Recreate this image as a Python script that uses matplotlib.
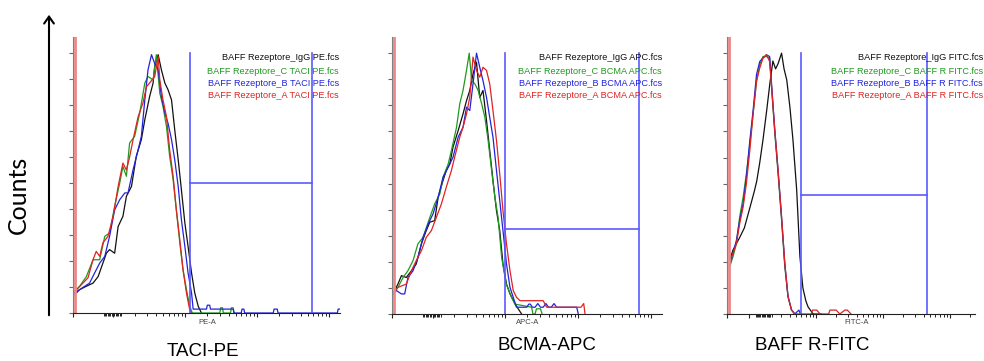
import numpy as np
import matplotlib
matplotlib.use("Agg")
import matplotlib.pyplot as plt
from matplotlib.patches import FancyArrowPatch

# x: display channel 0-1000 across the axis, y: % of max counts
# ---------------- TACI-PE ----------------
taci_igg_x = [6, 25, 50, 75, 94, 112, 125, 137, 156, 169, 187, 200, 219, 237, 256, 269, 287, 300, 306, 319,
              331, 344, 356, 369, 381, 394, 406, 419, 431, 444, 456, 469, 481]
taci_igg_y = [7.7, 9.0, 10.3, 11.5, 14.0, 19.2, 23.0, 24.4, 23.0, 33.3, 37.2, 44.9, 48.7, 60.3, 66.7, 74.4, 83.3,
              88.5, 94.9, 99.4, 93.6, 88.5, 85.9, 82.0, 70.5, 59.0, 47.4, 34.6, 25.6, 15.4, 7.7, 2.6, 0.0]
taci_c_x = [6, 25, 50, 75, 100, 119, 137, 156, 175, 187, 200, 212, 231, 250, 269, 281, 300, 312, 325, 337,
            350, 362, 375, 387, 400, 412, 425, 437, 447, 550, 553, 560, 563, 590, 593, 600, 603]
taci_c_y = [8.3, 10.3, 14.0, 20.5, 20.5, 29.5, 30.8, 41.0, 50.0, 56.4, 52.6, 65.4, 68.0, 77.0, 88.5, 91.0, 89.7,
            99.4, 84.6, 79.5, 71.8, 60.3, 51.3, 39.7, 27.0, 16.7, 9.0, 2.6, 0.0, 0.0, 2.0, 2.0, 0.0, 0.0, 2.0, 2.0, 0.0]
taci_b_x = [6, 25, 44, 62, 81, 100, 119, 137, 156, 175, 194, 206, 225, 244, 256, 269, 281, 294, 306, 319, 331,
            344, 356, 369, 381, 394, 406, 419, 431, 444, 450, 500, 503, 512, 515, 600, 603, 606, 609, 612,
            630, 633, 640, 643, 750, 753, 765, 768, 990, 993, 1000]
taci_b_y = [7.0, 9.0, 10.3, 11.5, 15.4, 19.2, 21.8, 29.5, 39.7, 43.6, 46.2, 46.2, 55.1, 62.8, 68.0, 82.0, 93.6,
            99.4, 96.0, 93.6, 83.3, 77.0, 73.0, 66.7, 59.0, 48.7, 35.9, 25.6, 15.4, 7.7, 1.5, 1.5, 3.0, 3.0, 1.5,
            1.5, 0.0, 0.0, 0.0, 0.0, 0.0, 1.5, 1.5, 0.0, 0.0, 1.5, 1.5, 0.0, 0.0, 1.5, 1.5]
taci_a_x = [6, 19, 37, 56, 75, 87, 100, 112, 131, 150, 169, 187, 200, 212, 225, 244, 262, 275, 287, 306, 319,
            325, 337, 350, 362, 375, 387, 400, 412, 425, 437, 444]
taci_a_y = [8.3, 9.6, 11.5, 13.5, 20.5, 23.7, 21.8, 27.0, 29.5, 37.0, 48.7, 57.7, 55.0, 60.0, 66.7, 75.6, 80.8,
            87.0, 88.5, 91.0, 98.7, 89.7, 82.0, 75.6, 62.8, 52.6, 39.7, 28.2, 16.7, 7.7, 1.3, 0.0]

# ---------------- BCMA-APC ----------------
bcma_igg_x = [4, 22, 35, 53, 72, 90, 109, 127, 140, 158, 171, 189, 201, 214, 226, 245, 263, 276, 288, 300, 313,
              325, 337, 350, 362, 374, 387, 399, 411, 424, 437, 456, 480]
bcma_igg_y = [7.7, 11.5, 14.7, 14.0, 16.6, 19.2, 26.9, 32.0, 35.2, 35.8, 44.8, 51.2, 55.0, 57.5, 64.0, 70.3, 76.7,
              81.8, 85.7, 92.0, 96.5, 83.0, 85.7, 74.2, 62.7, 51.2, 39.6, 32.0, 19.2, 11.5, 7.7, 3.8, 0.0]
bcma_c_x = [4, 22, 41, 59, 78, 96, 115, 140, 158, 177, 189, 208, 220, 239, 251, 263, 276, 286, 295, 307, 319,
            332, 344, 356, 369, 381, 393, 406, 423, 443, 455, 517, 522, 530, 535, 550, 556]
bcma_c_y = [7.7, 10.2, 14.0, 16.6, 20.5, 26.9, 29.4, 37.0, 42.2, 46.0, 52.4, 57.5, 62.7, 71.6, 80.6, 85.7, 93.4,
            100.0, 89.5, 88.2, 85.7, 80.6, 75.4, 66.5, 55.0, 44.8, 37.0, 21.7, 11.5, 6.4, 3.8, 2.6, 0.0, 0.0, 2.0,
            2.0, 0.0]
bcma_b_x = [4, 16, 35, 47, 59, 78, 96, 115, 134, 152, 171, 189, 208, 226, 245, 263, 276, 288, 300, 313, 325,
            337, 350, 362, 374, 387, 399, 411, 424, 437, 449, 461, 499, 507, 512, 520, 530, 540, 550, 560, 570,
            580, 590, 600, 610, 620, 684, 690]
bcma_b_y = [7.7, 9.0, 7.7, 7.7, 14.0, 16.6, 21.7, 29.4, 34.5, 38.4, 44.8, 52.4, 56.3, 60.1, 67.8, 71.6, 79.3,
            78.0, 88.2, 100.0, 94.6, 89.5, 83.1, 75.4, 67.8, 55.0, 43.5, 32.0, 19.2, 10.2, 6.4, 2.6, 2.6, 3.8, 3.8,
            2.6, 2.6, 4.0, 2.6, 2.6, 4.0, 2.6, 2.6, 4.0, 2.6, 2.6, 2.6, 0.0]
bcma_a_x = [4, 22, 53, 72, 90, 109, 127, 146, 164, 183, 201, 220, 232, 251, 263, 276, 288, 300, 313, 325, 337,
            350, 362, 374, 387, 399, 411, 424, 437, 449, 461, 474, 560, 573, 620, 700, 710, 715]
bcma_a_y = [7.7, 10.2, 11.5, 16.6, 20.5, 24.3, 29.4, 32.0, 37.0, 42.2, 48.6, 55.0, 60.1, 67.8, 71.6, 76.7, 83.1,
            98.5, 93.4, 90.8, 94.6, 93.4, 88.2, 78.0, 66.5, 53.7, 39.6, 26.9, 16.6, 9.0, 6.4, 5.1, 5.1, 2.6, 2.6,
            2.6, 4.0, 0.0]

# ---------------- BAFF R-FITC ----------------
baffr_igg_x = [11, 24, 38, 52, 70, 93, 110, 120, 132, 145, 160, 173, 185, 196, 206, 213, 220, 230, 241, 254, 266,
               281, 294, 306, 318, 327, 340, 347, 380]
baffr_igg_y = [20.7, 24.5, 27.0, 29.5, 33.0, 41.0, 47.0, 51.0, 58.0, 66.7, 78.0, 88.5, 97.0, 94.0, 96.0, 98.0,
               100.0, 94.0, 89.7, 79.0, 66.7, 47.5, 22.0, 10.0, 5.0, 2.7, 1.0, 0.0, 0.0]
baffr_c_x = [11, 24, 38, 51, 65, 78, 92, 105, 119, 132, 145, 159, 172, 179, 192, 206, 220, 233, 246, 260, 273]
baffr_c_y = [18.1, 21.9, 27.0, 37.2, 44.8, 53.7, 65.1, 76.5, 89.2, 95.6, 98.7, 98.7, 98.1, 88.0, 70.2, 53.7,
             36.0, 18.1, 6.7, 1.6, 0.0]
baffr_b_x = [11, 24, 38, 51, 65, 78, 92, 105, 119, 132, 145, 159, 172, 179, 192, 206, 220, 233, 246, 260, 273,
             290, 296]
baffr_b_y = [19.4, 23.2, 28.3, 35.9, 42.3, 52.4, 66.4, 77.8, 91.8, 96.8, 98.1, 99.4, 98.7, 89.2, 71.4, 55.0,
             37.2, 19.4, 6.7, 1.6, 0.0, 1.5, 0.0]
baffr_a_x = [11, 24, 38, 51, 65, 78, 92, 105, 119, 132, 145, 159, 172, 179, 192, 206, 220, 233, 246, 260, 273,
             300, 320, 340, 345, 362, 375, 410, 415, 440, 455, 475, 485, 500]
baffr_a_y = [20.7, 23.2, 27.0, 34.6, 41.0, 49.9, 62.7, 76.5, 89.2, 94.3, 98.1, 99.4, 96.8, 88.0, 71.4, 55.0,
             37.2, 19.4, 6.7, 1.6, 0.0, 0.0, 0.0, 0.0, 1.5, 1.5, 0.0, 0.0, 1.5, 1.5, 0.0, 1.5, 1.5, 0.0]

# gates: (left, right, level)
gates = [(440, 894, 50.0), (418, 913, 32.6), (297, 806, 45.8)]
titles = ["TACI-PE", "BCMA-APC", "BAFF R-FITC"]
axis_names = ["PE-A", "APC-A", "FITC-A"]
legend_texts = [
    ["BAFF Rezeptore_IgG PE.fcs", "BAFF Rezeptore_C TACI PE.fcs",
     "BAFF Rezeptore_B TACI PE.fcs", "BAFF Rezeptore_A TACI PE.fcs"],
    ["BAFF Rezeptore_IgG APC.fcs", "BAFF Rezeptore_C BCMA APC.fcs",
     "BAFF Rezeptore_B BCMA APC.fcs", "BAFF Rezeptore_A BCMA APC.fcs"],
    ["BAFF Rezeptore_IgG FITC.fcs", "BAFF Rezeptore_C BAFF R FITC.fcs",
     "BAFF Rezeptore_B BAFF R FITC.fcs", "BAFF Rezeptore_A BAFF R FITC.fcs"],
]
curves = [
    [(taci_igg_x, taci_igg_y), (taci_c_x, taci_c_y), (taci_b_x, taci_b_y), (taci_a_x, taci_a_y)],
    [(bcma_igg_x, bcma_igg_y), (bcma_c_x, bcma_c_y), (bcma_b_x, bcma_b_y), (bcma_a_x, bcma_a_y)],
    [(baffr_igg_x, baffr_igg_y), (baffr_c_x, baffr_c_y), (baffr_b_x, baffr_b_y), (baffr_a_x, baffr_a_y)],
]
cols = ["#111111", "#1f9a1f", "#2222dd", "#e02222"]
gate_col = "#5a5aff"

W, H = 984, 361
fig = plt.figure(figsize=(W / 100, H / 100), dpi=100)

# pixel boxes (left, right, bottom, top)
boxes = [(73, 340, 313, 37), (392, 662, 314, 37), (727, 975, 314, 37)]
decade_start = [150, 150, 90]
legend_right = [339, 662, 983]
name_x = [207, 528, 857]
title_pos = [(203, 351), (547, 345), (812, 345)]

ymax = 106.2
for i, (l, r, b, t) in enumerate(boxes):
    ax = fig.add_axes([l / W, 1 - b / H, (r - l) / W, (b - t) / H])
    ax.set_xlim(0, 1000)
    ax.set_ylim(0, ymax)
    for (x, y), c in zip(curves[i], cols):
        ax.plot(x, y, color=c, lw=0.9)
    gl, gr, gy = gates[i]
    ax.plot([gl, gl], [0, 100], color=gate_col, lw=1.2)
    ax.plot([gr, gr], [0, 100], color=gate_col, lw=1.2)
    ax.plot([gl, gr], [gy, gy], color=gate_col, lw=1.2)
    ax.axvline(7, color="#ee8888", lw=2)

    for s in ["top", "right"]:
        ax.spines[s].set_visible(False)
    ax.spines["left"].set_color("#808080")
    ax.spines["bottom"].set_color("#222222")
    ax.set_yticks(np.arange(0, 101, 10))
    ax.set_yticklabels([])
    ax.tick_params(axis="y", length=3, width=0.8, color="#666666")

    d0 = decade_start[i]
    majors = [0] + [d0 + 270 * k for k in range(4) if d0 + 270 * k <= 1000]
    minors = list(np.linspace(115, 180, 14))
    for k in range(4):
        for m in range(2, 10):
            p = d0 + 270 * k + 270 * np.log10(m)
            if p < 1000:
                minors.append(p)
    ax.set_xticks(majors)
    ax.set_xticks(minors, minor=True)
    ax.set_xticklabels([])
    ax.tick_params(axis="x", which="major", length=3, width=0.8, color="#222222")
    ax.tick_params(axis="x", which="minor", length=2, width=0.7, color="#222222")

    for j, (txt, c) in enumerate(zip(legend_texts[i], cols)):
        yy = [58, 71, 83.5, 96][j]
        fig.text(legend_right[i] / W, 1 - yy / H, txt, color=c, fontsize=6.6,
                 family="Liberation Sans", ha="right", va="center")
    fig.text(name_x[i] / W, 1 - 323 / H, axis_names[i], fontsize=5.5, color="#444444",
             family="Liberation Sans", ha="center", va="center")
    tx, ty = title_pos[i]
    fig.text(tx / W, 1 - ty / H, titles[i], fontsize=13.5, family="Liberation Sans",
             ha="center", va="center")

fig.text(18 / W, 1 - 195 / H, "Counts", rotation=90, fontsize=18, family="Lato",
         ha="center", va="center")
arrow = FancyArrowPatch((49 / W, 1 - 318 / H), (49 / W, 1 - 12 / H), transform=fig.transFigure,
                        arrowstyle="->,head_length=5,head_width=3.5", lw=1.5, color="black")
fig.add_artist(arrow)

fig.savefig("out.png", dpi=100)
